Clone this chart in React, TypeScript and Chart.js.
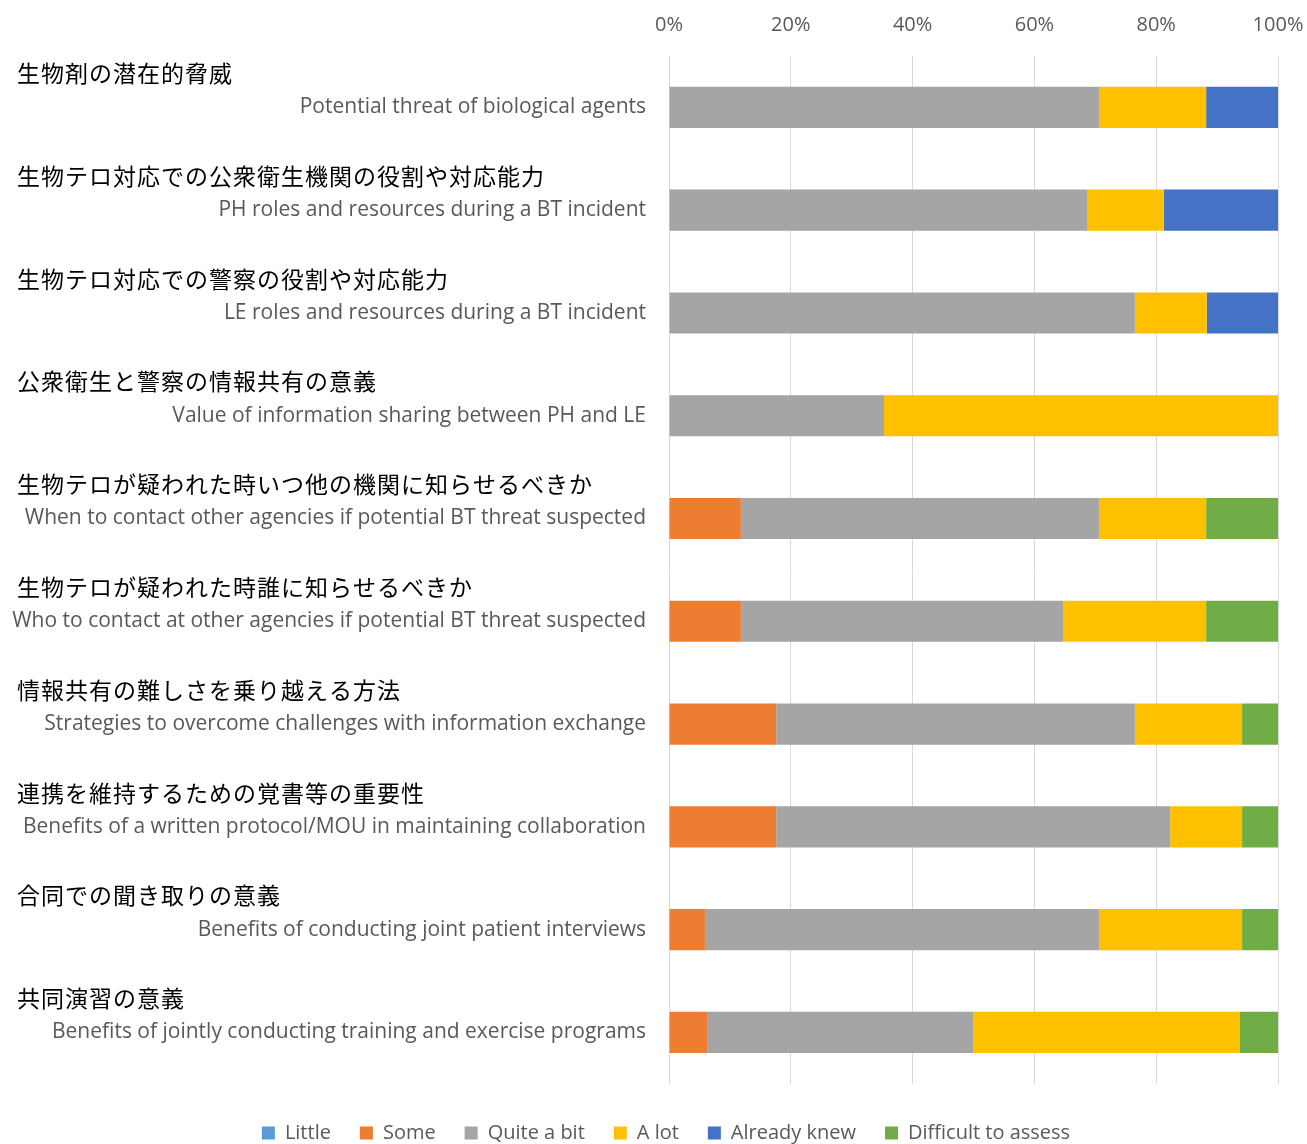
import React, { useEffect, useRef } from "react";
import { Chart, registerables } from "chart.js";

Chart.register(...registerables);

const labelsJa = [
  "生物剤の潜在的脅威",
  "生物テロ対応での公衆衛生機関の役割や対応能力",
  "生物テロ対応での警察の役割や対応能力",
  "公衆衛生と警察の情報共有の意義",
  "生物テロが疑われた時いつ他の機関に知らせるべきか",
  "生物テロが疑われた時誰に知らせるべきか",
  "情報共有の難しさを乗り越える方法",
  "連携を維持するための覚書等の重要性",
  "合同での聞き取りの意義",
  "共同演習の意義",
];

const labelsEn = [
  "Potential threat of biological agents",
  "PH roles and resources during a BT incident",
  "LE roles and resources during a BT incident",
  "Value of information sharing between PH and LE",
  "When to contact other agencies if potential BT threat suspected",
  "Who to contact at other agencies if potential BT threat suspected",
  "Strategies to overcome challenges with information exchange",
  "Benefits of a written protocol/MOU in maintaining collaboration",
  "Benefits of conducting joint patient interviews",
  "Benefits of jointly conducting training and exercise programs",
];

const seriesNames = ["Little", "Some", "Quite a bit", "A lot", "Already knew", "Difficult to assess"];
const seriesColors = ["#5B9BD5", "#ED7D31", "#A5A5A5", "#FFC000", "#4472C4", "#70AD47"];

const little = [0, 0, 0, 0, 0, 0, 0, 0, 0, 0];
const some = [0, 0, 0, 0, 11.8, 11.8, 17.6, 17.6, 5.9, 6.25];
const quiteABit = [70.6, 68.75, 76.5, 35.3, 58.8, 52.9, 58.9, 64.7, 64.7, 43.75];
const aLot = [17.6, 12.5, 11.8, 64.7, 17.6, 23.5, 17.6, 11.8, 23.5, 43.75];
const alreadyKnew = [11.8, 18.75, 11.7, 0, 0, 0, 0, 0, 0, 0];
const difficult = [0, 0, 0, 0, 11.8, 11.8, 5.9, 5.9, 5.9, 6.25];

const xTickMin = 0;
const xTickMax = 100;
const xTickStep = 20;

const seriesValues = [little, some, quiteABit, aLot, alreadyKnew, difficult];

const twoLineLabels = {
  id: "twoLineLabels",
  afterDraw(chart: any) {
    const ctx = chart.ctx as CanvasRenderingContext2D;
    const yScale = chart.scales.y;
    ctx.save();
    ctx.textBaseline = "middle";
    labelsJa.forEach((t, i) => {
      const py = yScale.getPixelForValue(i);
      ctx.font = '23px "Noto Sans CJK JP"';
      ctx.fillStyle = "#000000";
      ctx.textAlign = "left";
      (ctx as any).letterSpacing = "1px";
      ctx.fillText(t, 17, py - 34);
      (ctx as any).letterSpacing = "0px";
      ctx.font = '21px "Open Sans"';
      ctx.fillStyle = "#595959";
      ctx.textAlign = "right";
      ctx.fillText(labelsEn[i], 646, py);
    });
    ctx.restore();
  },
};

export default function App() {
  const ref = useRef<HTMLCanvasElement | null>(null);

  useEffect(() => {
    if (!ref.current) return;
    Chart.defaults.font.family = '"Open Sans"';
    const chart = new Chart(ref.current, {
      type: "bar",
      data: {
        labels: labelsEn,
        datasets: seriesNames.map((name, i) => ({
          label: name,
          data: seriesValues[i],
          backgroundColor: seriesColors[i],
          borderWidth: 0,
          barPercentage: 0.4,
          categoryPercentage: 1,
        })),
      },
      options: {
        indexAxis: "y",
        responsive: false,
        animation: false,
        layout: { padding: { left: 54, right: 29, top: 0, bottom: -9 } },
        scales: {
          x: {
            position: "top",
            stacked: true,
            min: xTickMin,
            max: xTickMax,
            ticks: {
              stepSize: xTickStep,
              padding: 19,
              color: "#595959",
              font: { size: 20, family: '"Open Sans"' },
              callback: (v: any) => v + "%",
            },
            grid: { color: "#d9d9d9", drawTicks: false, lineWidth: 1 },
            border: { display: false },
            afterFit: (s: any) => {
              s.height = 56;
              s.paddingLeft = 0;
              s.paddingRight = 0;
            },
          },
          y: {
            stacked: true,
            ticks: { display: false },
            grid: { display: false },
            border: { display: false },
            afterFit: (s: any) => {
              s.width = 615;
              s.paddingTop = 0;
              s.paddingBottom = 0;
            },
          },
        },
        plugins: {
          tooltip: { enabled: false },
          legend: {
            position: "bottom",
            title: { display: true, text: "", font: { size: 1 }, padding: { top: 0, bottom: 9 } },
            labels: {
              boxWidth: 13,
              boxHeight: 13,
              padding: 29,
              color: "#595959",
              font: { size: 20, family: '"Open Sans"' },
            },
          },
        },
      },
      plugins: [twoLineLabels],
    } as any);
    return () => chart.destroy();
  }, []);

  return (
    <div style={{ position: "absolute", left: 0, top: 0, width: 1307, height: 1144, background: "#fff" }}>
      <canvas ref={ref} width={1307} height={1144} style={{ display: "block" }} />
    </div>
  );
}
